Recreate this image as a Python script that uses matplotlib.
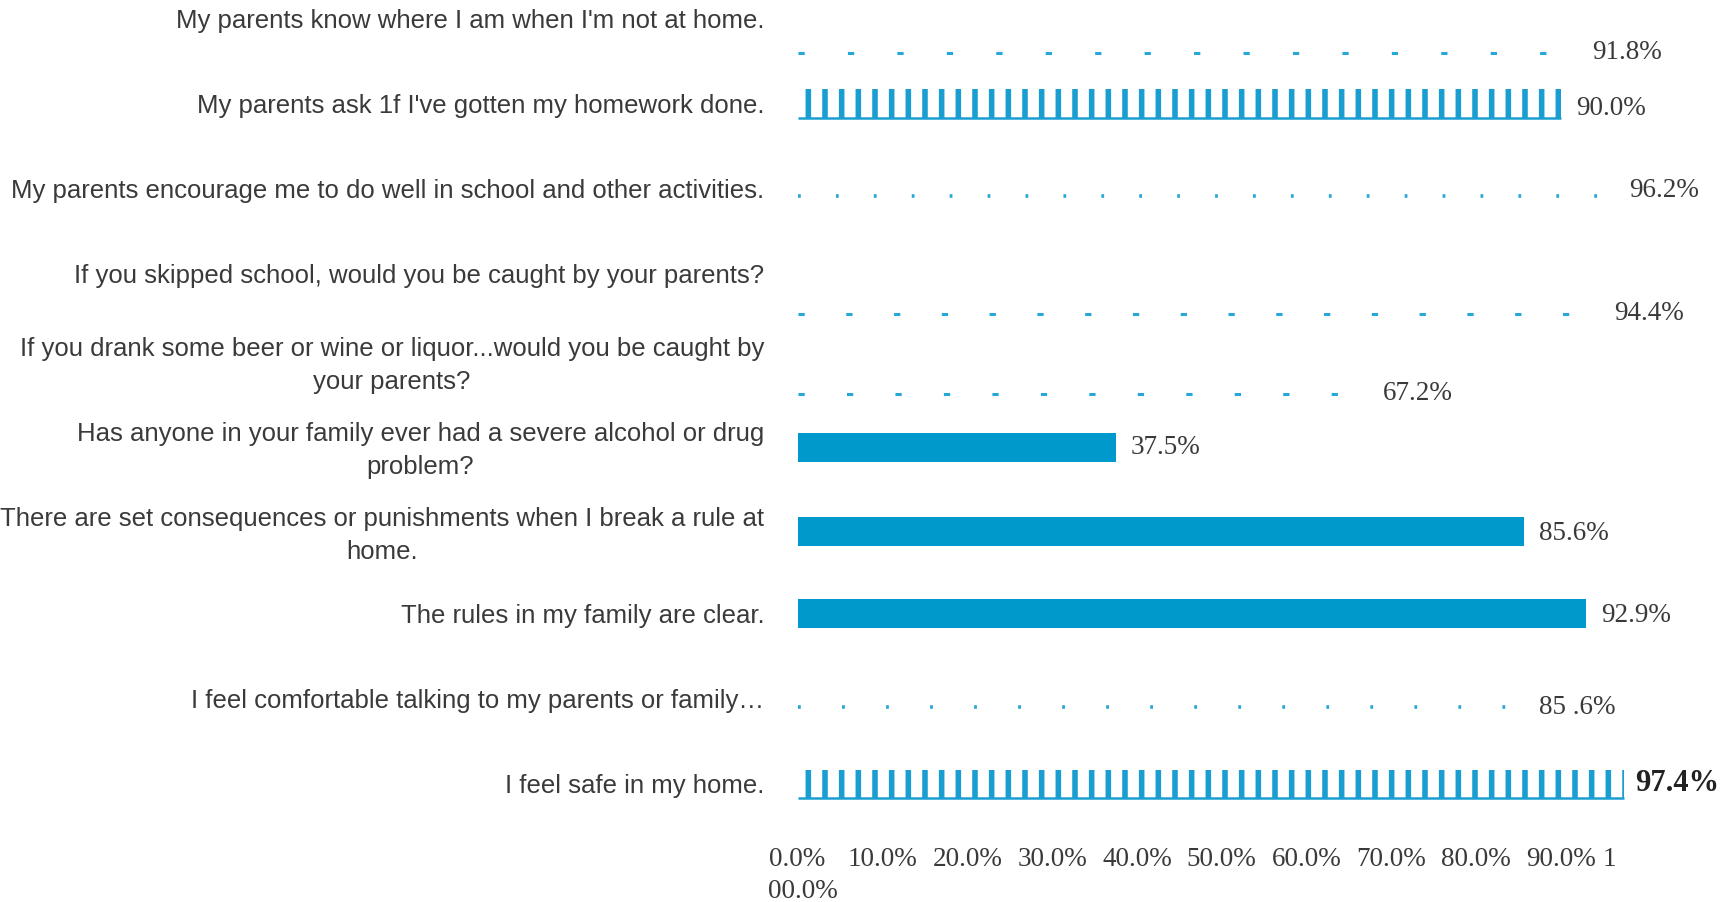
import numpy as np
import matplotlib
matplotlib.use("Agg")
import matplotlib.pyplot as plt
from matplotlib.transforms import blended_transform_factory

# ---------------- data ----------------
categories = [
    "My parents know where I am when I'm not at home.",
    "My parents ask 1f I've gotten my homework done.",
    "My parents encourage me to do well in school and other activities.",
    "If you skipped school, would you be caught by your parents?",
    "If you drank some beer or wine or liquor...would you be caught by\nyour parents?",
    "Has anyone in your family ever had a severe alcohol or drug\nproblem?",
    "There are set consequences or punishments when I break a rule at\nhome.",
    "The rules in my family are clear.",
    "I feel comfortable talking to my parents or family\u2026",
    "I feel safe in my home.",
]
values = [91.8, 90.0, 96.2, 94.4, 67.2, 37.5, 85.6, 92.9, 85.6, 97.4]
value_labels = ["91.8%", "90.0%", "96.2%", "94.4%", "67.2%", "37.5%",
                "85.6%", "92.9%", "85 .6%", "97.4%"]
tick_values = [0, 10, 20, 30, 40, 50, 60, 70, 80, 90]
tick_labels = ["0.0%", "10.0%", "20.0%", "30.0%", "40.0%", "50.0%",
               "60.0%", "70.0%", "80.0%", "90.0%"]

# ---------------- style ----------------
BLUE = "#0099CC"
LIGHT = "#27A6DA"
TXT = "#3a3a3a"
row_style = ["dash", "hatch", "dot", "dash", "dash", "solid", "solid", "solid", "dot", "hatch"]
mark_shift = [0.40, 0.0, 0.09, 0.47, 0.41, 0.04, 0.03, 0.0, 0.10, 0.0]
label_shift = [0.40, 0.06, 0.02, 0.47, 0.41, 0.04, 0.05, 0.02, 0.10, 0.0]
period_pt = [35.6, 0, 27.3, 34.4, 34.9, 0, 0, 0, 31.7, 0]
bar_h = 0.34

plt.rcParams["lines.scale_dashes"] = False
plt.rcParams["hatch.linewidth"] = 4.0

fig = plt.figure(figsize=(17.32, 9.02), dpi=100)
W, H = 1732, 902
ax_left, ax_right = 797.5, 1646
ax_bottom = 826.5
ax = fig.add_axes([ax_left / W, 1 - ax_bottom / H, (ax_right - ax_left) / W, ax_bottom / H])
ax.set_xlim(0, 100)
ax.set_ylim(9.5, -0.221)

ypos = np.arange(len(categories))
for i, (y, v) in enumerate(zip(ypos, values)):
    ym = y + mark_shift[i]
    yl = y + label_shift[i]
    st = row_style[i]
    if st == "solid":
        ax.barh(ym, v, height=bar_h, color=BLUE, linewidth=0)
    elif st == "hatch":
        ax.barh(ym, v, height=bar_h, fill=False, edgecolor="#1A9ED2", linewidth=0, hatch="|")
        ax.hlines(ym + bar_h / 2, 0, v, color="#1A9ED2", linewidth=1.8)
    elif st == "dash":
        p = period_pt[i]
        ax.hlines(ym, 0, v, color=LIGHT, linewidth=2.2,
                  linestyle=(0, (4.5, p - 4.5)))
    elif st == "dot":
        p = period_pt[i]
        ax.hlines(ym, 0, v, color=LIGHT, linewidth=2.6,
                  linestyle=(0, (2.0, p - 2.0)))
    if i == len(values) - 1:
        ax.annotate(value_labels[i], (v, yl), xytext=(8, 0), textcoords="offset points",
                    ha="left", va="center", fontsize=22, fontweight="bold",
                    family="Liberation Serif", color="#222222")
    else:
        ax.annotate(value_labels[i], (v, yl), xytext=(11, 0), textcoords="offset points",
                    ha="left", va="center", fontsize=19.5,
                    family="Liberation Serif", color=TXT)

ax.set_yticks(ypos)
ax.set_yticklabels(categories, fontsize=18.5, color=TXT,
                   family=["Liberation Sans Narrow", "Liberation Sans"],
                   multialignment="center", linespacing=1.45)
ax.tick_params(axis="y", length=0, pad=24)

ax.set_xticks(tick_values)
ax.set_xticklabels(tick_labels, fontsize=19.5, color=TXT, family="Liberation Serif")
ax.tick_params(axis="x", length=0, pad=15)

trans = blended_transform_factory(ax.transData, ax.transAxes)
ax.annotate("1", (90, 0), xycoords=trans, xytext=(30, -24), textcoords="offset points",
            ha="left", va="center", fontsize=19.5, family="Liberation Serif", color=TXT)
ax.annotate("00.0%", (0, 0), xycoords=trans, xytext=(-21, -47), textcoords="offset points",
            ha="left", va="center", fontsize=19.5, family="Liberation Serif", color=TXT)

for s in ax.spines.values():
    s.set_visible(False)

fig.savefig("out.png", dpi=100, facecolor="white")
